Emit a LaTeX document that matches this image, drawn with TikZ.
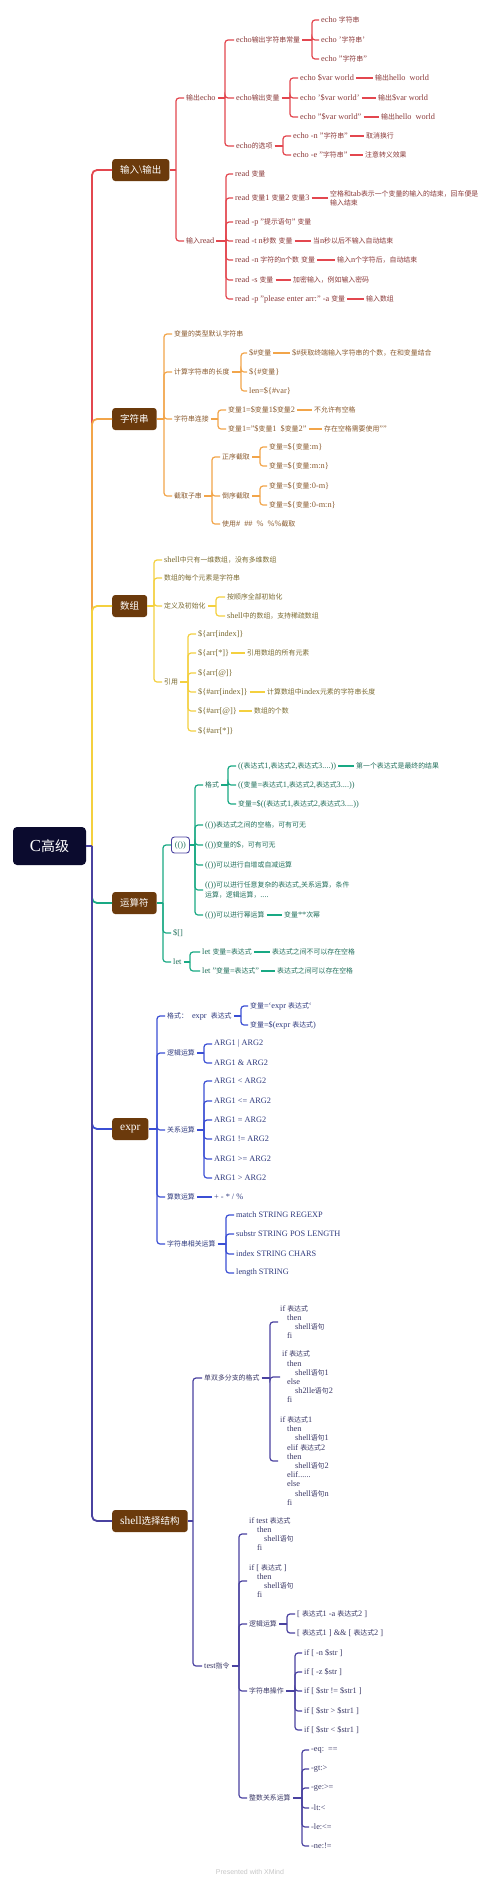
\documentclass[tikz,border=0pt]{standalone}
\usepackage{fontspec}
\setmainfont{Liberation Serif}[Scale=1.2]
\newfontfamily\cjkf{Noto Sans CJK SC}
\newfontfamily\sansf{Liberation Sans}
\ifdefined\newXeTeXintercharclass \newXeTeXintercharclass\cjkcls \else \chardef\cjkcls=42 \fi
\newcount\cjkcnt
\cjkcnt="3000 \loop\XeTeXcharclass\cjkcnt=\cjkcls\relax\advance\cjkcnt by 1 \ifnum\cjkcnt<"3040 \repeat
\cjkcnt="4E00 \loop\XeTeXcharclass\cjkcnt=\cjkcls\relax\advance\cjkcnt by 1 \ifnum\cjkcnt<"A000 \repeat
\cjkcnt="FF00 \loop\XeTeXcharclass\cjkcnt=\cjkcls\relax\advance\cjkcnt by 1 \ifnum\cjkcnt<"FFF0 \repeat
\XeTeXinterchartoks 0 \cjkcls = {\cjkf}
\XeTeXinterchartoks 4095 \cjkcls = {\cjkf}
\XeTeXinterchartoks \cjkcls 0 = {\rmfamily}
\XeTeXinterchartoks \cjkcls 4095 = {\rmfamily}
\XeTeXinterchartokenstate=1
\newcommand\smallft{\fontsize{6.9}{9.2}\selectfont}
\newcommand\bigft{\fontsize{9.5}{11}\selectfont}
\newcommand\rootft{\fontsize{14}{16}\selectfont}
\definecolor{rootc}{HTML}{0B0B2E}
\definecolor{brownc}{HTML}{6B3A0C}
\definecolor{lred}{HTML}{E3474F}\definecolor{tred}{HTML}{8B3A3A}
\definecolor{lorange}{HTML}{F2A54A}\definecolor{torange}{HTML}{8A5A2E}
\definecolor{lyellow}{HTML}{F4D03F}\definecolor{tyellow}{HTML}{7A6A2F}
\definecolor{lgreen}{HTML}{19A984}\definecolor{tgreen}{HTML}{22705C}
\definecolor{lblue}{HTML}{3B4FD4}\definecolor{tblue}{HTML}{2F3A7E}
\definecolor{lpurple}{HTML}{4A42A0}\definecolor{tpurple}{HTML}{3A3866}
\newcommand\brk[4]{%
  \draw[#1] (#2.east) -- (#2.east -| #3,0);
  \foreach \kid in {#4}{\draw[#1,rounded corners=3pt] (#2.east -| #3,0) |- (\kid.west);}%
}
\newcommand\ann[2]{\draw[#1] (#2.east) -- (#2.east -| #2a.west);}
\tikzset{
  txt/.style={anchor=west, xshift=-2pt, inner xsep=2pt, inner ysep=1pt, font=\smallft},
  tR/.style={txt, text=tred}, tO/.style={txt, text=torange}, tY/.style={txt, text=tyellow},
  tG/.style={txt, text=tgreen}, tB/.style={txt, text=tblue}, tP/.style={txt, text=tpurple},
  lR/.style={draw=lred, line width=1.2pt}, lO/.style={draw=lorange, line width=1.2pt},
  lY/.style={draw=lyellow, line width=1.2pt}, lG/.style={draw=lgreen, line width=1.2pt},
  lB/.style={draw=lblue, line width=1.2pt}, lP/.style={draw=lpurple, line width=1.2pt},
  mainbox/.style={anchor=west, fill=brownc, text=white, rounded corners=3pt, minimum height=22pt, inner xsep=8pt, inner ysep=2pt, font=\bigft},
  rootbox/.style={fill=rootc, text=white, rounded corners=4pt, minimum width=73pt, minimum height=38pt, font=\rootft},
  pbox/.style={anchor=west, draw=lpurple, fill=white, line width=0.9pt, rounded corners=3pt, minimum height=16pt, minimum width=18pt, inner xsep=2.5pt, text=tgreen, font=\smallft},
  trunk/.style={line width=1.8pt, rounded corners=5pt},
}
\begin{document}
\begin{tikzpicture}[x=1pt,y=-1pt]
\fill[white] (0,0) rectangle (500,1885);
\useasboundingbox (0,0) rectangle (500,1885);
\node[rootbox] (root) at (49.5,846) {C高级};
% ---------- 输入\输出
\node[mainbox] (io) at (112,170) {输入\textbackslash 输出};
\node[tR] (io1) at (186,98) {输出echo};
\node[tR] (io11) at (236,40) {echo输出字符串常量};
\node[tR] (io111) at (321,20) {echo 字符串};
\node[tR] (io112) at (321,40) {echo '字符串'};
\node[tR] (io113) at (321,59) {echo "字符串"};
\node[tR] (io12) at (236,98) {echo输出变量};
\node[tR] (io121) at (300,78) {echo \$var world};
\node[tR] (io121a) at (375,78) {输出hello\ \ world};
\node[tR] (io122) at (300,98) {echo '\$var world'};
\node[tR] (io122a) at (378,98) {输出\$var world};
\node[tR] (io123) at (300,117) {echo "\$var world"};
\node[tR] (io123a) at (381,117) {输出hello\ \ world};
\node[tR] (io13) at (236,146) {echo的选项};
\node[tR] (io131) at (293,136) {echo -n "字符串"};
\node[tR] (io131a) at (366,136) {取消换行};
\node[tR] (io132) at (293,155) {echo -e "字符串"};
\node[tR] (io132a) at (365,155) {注意转义效果};
\node[tR] (io2) at (186,241) {输入read};
\node[tR] (io21) at (235,174) {read 变量};
\node[tR] (io22) at (235,198) {read 变量1 变量2 变量3};
\node[tR,align=left] (io22a) at (330,198.5) {空格和tab表示一个变量的输入的结束，回车便是\\输入结束};
\node[tR] (io23) at (235,222) {read -p "提示语句" 变量};
\node[tR] (io24) at (235,241) {read -t n秒数 变量};
\node[tR] (io24a) at (313,241) {当n秒以后不输入自动结束};
\node[tR] (io25) at (235,260) {read -n 字符的n个数 变量};
\node[tR] (io25a) at (337,260) {输入n个字符后，自动结束};
\node[tR] (io26) at (235,280) {read -s 变量};
\node[tR] (io26a) at (293,280) {加密输入，例如输入密码};
\node[tR] (io27) at (235,299) {read -p "please enter arr:" -a 变量};
\node[tR] (io27a) at (366,299) {输入数组};
\brk{lR}{io}{176}{io1,io2}
\brk{lR}{io1}{225}{io11,io12,io13}
\brk{lR}{io11}{312}{io111,io112,io113}
\brk{lR}{io12}{290}{io121,io122,io123}
\brk{lR}{io13}{283}{io131,io132}
\brk{lR}{io2}{226}{io21,io22,io23,io24,io25,io26,io27}
\ann{lR}{io121}\ann{lR}{io122}\ann{lR}{io123}\ann{lR}{io131}\ann{lR}{io132}
\ann{lR}{io22}\ann{lR}{io24}\ann{lR}{io25}\ann{lR}{io26}\ann{lR}{io27}
% ---------- 字符串
\node[mainbox] (st) at (112,419) {字符串};
\node[tO] (st1) at (174,334) {变量的类型默认字符串};
\node[tO] (st2) at (174,372) {计算字符串的长度};
\node[tO] (st21) at (249,353) {\$\#变量};
\node[tO] (st21a) at (292,353) {\$\#获取终端输入字符串的个数，在和变量结合};
\node[tO] (st22) at (249,372) {\$\{\#变量\}};
\node[tO] (st23) at (249,391) {len=\$\{\#var\}};
\node[tO] (st3) at (174,419) {字符串连接};
\node[tO] (st31) at (228,410) {变量1=\$变量1\$变量2};
\node[tO] (st31a) at (314,410) {不允许有空格};
\node[tO] (st32) at (228,429) {变量1="\$变量1\ \ \$变量2"};
\node[tO] (st32a) at (324,429) {存在空格需要使用""};
\node[tO] (st4) at (174,496) {截取子串};
\node[tO] (st41) at (222,457) {正序截取};
\node[tO] (st411) at (269,447) {变量=\$\{变量:m\}};
\node[tO] (st412) at (269,466) {变量=\$\{变量:m:n\}};
\node[tO] (st42) at (222,496) {倒序截取};
\node[tO] (st421) at (269,486) {变量=\$\{变量:0-m\}};
\node[tO] (st422) at (269,505) {变量=\$\{变量:0-m:n\}};
\node[tO] (st43) at (222,524) {使用\#\ \ \#\#\ \ \%\ \ \%\%截取};
\brk{lO}{st}{164}{st1,st2,st3,st4}
\brk{lO}{st2}{241}{st21,st22,st23}
\brk{lO}{st3}{218}{st31,st32}
\brk{lO}{st4}{212}{st41,st42,st43}
\brk{lO}{st41}{260}{st411,st412}
\brk{lO}{st42}{260}{st421,st422}
\ann{lO}{st21}\ann{lO}{st31}\ann{lO}{st32}
% ---------- 数组
\node[mainbox] (ar) at (112,606) {数组};
\node[tY] (ar1) at (164,560) {shell中只有一维数组，没有多维数组};
\node[tY] (ar2) at (164,578) {数组的每个元素是字符串};
\node[tY] (ar3) at (164,606) {定义及初始化};
\node[tY] (ar31) at (227,597) {按顺序全部初始化};
\node[tY] (ar32) at (227,616) {shell中的数组，支持稀疏数组};
\node[tY] (ar4) at (164,682) {引用};
\node[tY] (ar41) at (198,634) {\$\{arr[index]\}};
\node[tY] (ar42) at (198,653) {\$\{arr[*]\}};
\node[tY] (ar42a) at (247,653) {引用数组的所有元素};
\node[tY] (ar43) at (198,673) {\$\{arr[@]\}};
\node[tY] (ar44) at (198,692) {\$\{\#arr[index]\}};
\node[tY] (ar44a) at (267,692) {计算数组中index元素的字符串长度};
\node[tY] (ar45) at (198,711) {\$\{\#arr[@]\}};
\node[tY] (ar45a) at (254,711) {数组的个数};
\node[tY] (ar46) at (198,731) {\$\{\#arr[*]\}};
\brk{lY}{ar}{154}{ar1,ar2,ar3,ar4}
\brk{lY}{ar3}{216}{ar31,ar32}
\brk{lY}{ar4}{188}{ar41,ar42,ar43,ar44,ar45,ar46}
\ann{lY}{ar42}\ann{lY}{ar44}\ann{lY}{ar45}
% ---------- 运算符
\node[mainbox] (op) at (112,903) {运算符};
\node[pbox] (op1) at (171,845) {(())};
\node[tG] (op11) at (205,785) {格式};
\node[tG] (op111) at (238,766) {((表达式1,表达式2,表达式3....))};
\node[tG] (op111a) at (356,766) {第一个表达式是最终的结果};
\node[tG] (op112) at (238,785) {((变量=表达式1,表达式2,表达式3....))};
\node[tG] (op113) at (238,804) {变量=\$((表达式1,表达式2,表达式3....))};
\node[tG] (op12) at (205,825) {(())表达式之间的空格，可有可无};
\node[tG] (op13) at (205,845) {(())变量的\$，可有可无};
\node[tG] (op14) at (205,865) {(())可以进行自增或自减运算};
\node[tG,align=left] (op15) at (205,890) {(())可以进行任意复杂的表达式,关系运算，条件\\运算，逻辑运算，....};
\node[tG] (op16) at (205,915) {(())可以进行幂运算};
\node[tG] (op16a) at (284,915) {变量**次幂};
\node[tG] (op2) at (173,933) {\$[]};
\node[tG] (op3) at (173,962) {let};
\node[tG] (op31) at (202,952) {let 变量=表达式};
\node[tG] (op31a) at (272,952) {表达式之间不可以存在空格};
\node[tG] (op32) at (202,971) {let "变量=表达式"};
\node[tG] (op32a) at (277,971) {表达式之间可以存在空格};
\brk{lG}{op}{163}{op1,op2,op3}
\brk{lG}{op1}{195}{op11,op12,op13,op14,op15,op16}
\brk{lG}{op11}{228}{op111,op112,op113}
\brk{lG}{op3}{190}{op31,op32}
\ann{lG}{op111}\ann{lG}{op16}\ann{lG}{op31}\ann{lG}{op32}
% ---------- expr
\node[mainbox] (ex) at (112,1129) {expr};
\node[tB] (ex1) at (167,1016) {格式：\ \ expr\ \ 表达式};
\node[tB] (ex11) at (250,1006) {变量=`expr 表达式`};
\node[tB] (ex12) at (250,1025) {变量=\$(expr 表达式)};
\node[tB] (ex2) at (167,1053) {逻辑运算};
\node[tB] (ex21) at (214,1044) {ARG1 | ARG2};
\node[tB] (ex22) at (214,1063) {ARG1 \& ARG2};
\node[tB] (ex3) at (167,1130) {关系运算};
\node[tB] (ex31) at (214,1081) {ARG1 < ARG2};
\node[tB] (ex32) at (214,1101) {ARG1 <= ARG2};
\node[tB] (ex33) at (214,1120) {ARG1 = ARG2};
\node[tB] (ex34) at (214,1139) {ARG1 != ARG2};
\node[tB] (ex35) at (214,1159) {ARG1 >= ARG2};
\node[tB] (ex36) at (214,1178) {ARG1 > ARG2};
\node[tB] (ex4) at (167,1197) {算数运算};
\node[tB] (ex4a) at (214,1197) {+ - * / \%};
\node[tB] (ex5) at (167,1244) {字符串相关运算};
\node[tB] (ex51) at (236,1215) {match STRING REGEXP};
\node[tB] (ex52) at (236,1234) {substr STRING POS LENGTH};
\node[tB] (ex53) at (236,1254) {index STRING CHARS};
\node[tB] (ex54) at (236,1273) {length STRING};
\brk{lB}{ex}{157}{ex1,ex2,ex3,ex4,ex5}
\brk{lB}{ex1}{241}{ex11,ex12}
\brk{lB}{ex2}{204}{ex21,ex22}
\brk{lB}{ex3}{204}{ex31,ex32,ex33,ex34,ex35,ex36}
\brk{lB}{ex5}{226}{ex51,ex52,ex53,ex54}
\ann{lB}{ex4}
% ---------- shell选择结构
\node[mainbox] (sh) at (112,1521) {shell选择结构};
\node[tP] (sh1) at (204,1378) {单双多分支的格式};
\node[tP,align=left] (sh11) at (280,1322) {if 表达式\\\hspace*{7pt}then\\\hspace*{15pt}shell语句\\\hspace*{7pt}fi};
\node[tP,align=left] (sh12) at (282,1377) {if 表达式\\\hspace*{5pt}then\\\hspace*{13pt}shell语句1\\\hspace*{5pt}else\\\hspace*{13pt}sh2lle语句2\\\hspace*{5pt}fi};
\node[tP,align=left] (sh13) at (280,1461) {if 表达式1\\\hspace*{7pt}then\\\hspace*{15pt}shell语句1\\\hspace*{7pt}elif 表达式2\\\hspace*{7pt}then\\\hspace*{15pt}shell语句2\\\hspace*{7pt}elif......\\\hspace*{7pt}else\\\hspace*{15pt}shell语句n\\\hspace*{7pt}fi};
\node[tP] (sh2) at (204,1666) {test指令};
\node[tP,align=left] (sh21) at (249,1534) {if test 表达式\\\hspace*{8pt}then\\\hspace*{15pt}shell语句\\\hspace*{8pt}fi};
\node[tP,align=left] (sh22) at (249,1581) {if [ 表达式 ]\\\hspace*{8pt}then\\\hspace*{15pt}shell语句\\\hspace*{8pt}fi};
\node[tP] (sh23) at (249,1624) {逻辑运算};
\node[tP] (sh231) at (297,1614) {[ 表达式1 -a 表达式2 ]};
\node[tP] (sh232) at (297,1633) {[ 表达式1 ] \&\& [ 表达式2 ]};
\node[tP] (sh24) at (249,1691) {字符串操作};
\node[tP] (sh241) at (304,1653) {if [ -n \$str ]};
\node[tP] (sh242) at (304,1672) {if [ -z \$str ]};
\node[tP] (sh243) at (304,1691) {if [ \$str != \$str1 ]};
\node[tP] (sh244) at (304,1711) {if [ \$str > \$str1 ]};
\node[tP] (sh245) at (304,1730) {if [ \$str < \$str1 ]};
\node[tP] (sh25) at (249,1798) {整数关系运算};
\node[tP] (sh251) at (311,1750) {-eq:\ \ ==};
\node[tP] (sh252) at (311,1769) {-gt:>};
\node[tP] (sh253) at (311,1788) {-ge:>=};
\node[tP] (sh254) at (311,1808) {-lt:<};
\node[tP] (sh255) at (311,1827) {-le:<=};
\node[tP] (sh256) at (311,1846) {-ne:!=};
\brk{lP}{sh}{193}{sh1,sh2}
\brk{lP}{sh1}{270}{sh11,sh12,sh13}
\brk{lP}{sh2}{239}{sh21,sh22,sh23,sh24,sh25}
\brk{lP}{sh23}{287}{sh231,sh232}
\brk{lP}{sh24}{295}{sh241,sh242,sh243,sh244,sh245}
\brk{lP}{sh25}{302}{sh251,sh252,sh253,sh254,sh255,sh256}
% ---------- trunk
\coordinate (tj) at (92,846);
\draw[trunk,lred] (tj) |- (io.west);
\draw[trunk,lorange] (tj) |- (st.west);
\draw[trunk,lyellow] (tj) |- (ar.west);
\draw[trunk,lgreen] (tj) |- (op.west);
\draw[trunk,lblue] (tj) |- (ex.west);
\draw[trunk,lpurple] (tj) |- (sh.west);
\draw[trunk,lpurple] (root.east) -- (tj);
\node[font=\sansf\fontsize{7}{8}\selectfont, text=black!22] (foot) at (250,1872) {Presented with XMind};
\end{tikzpicture}
\end{document}
